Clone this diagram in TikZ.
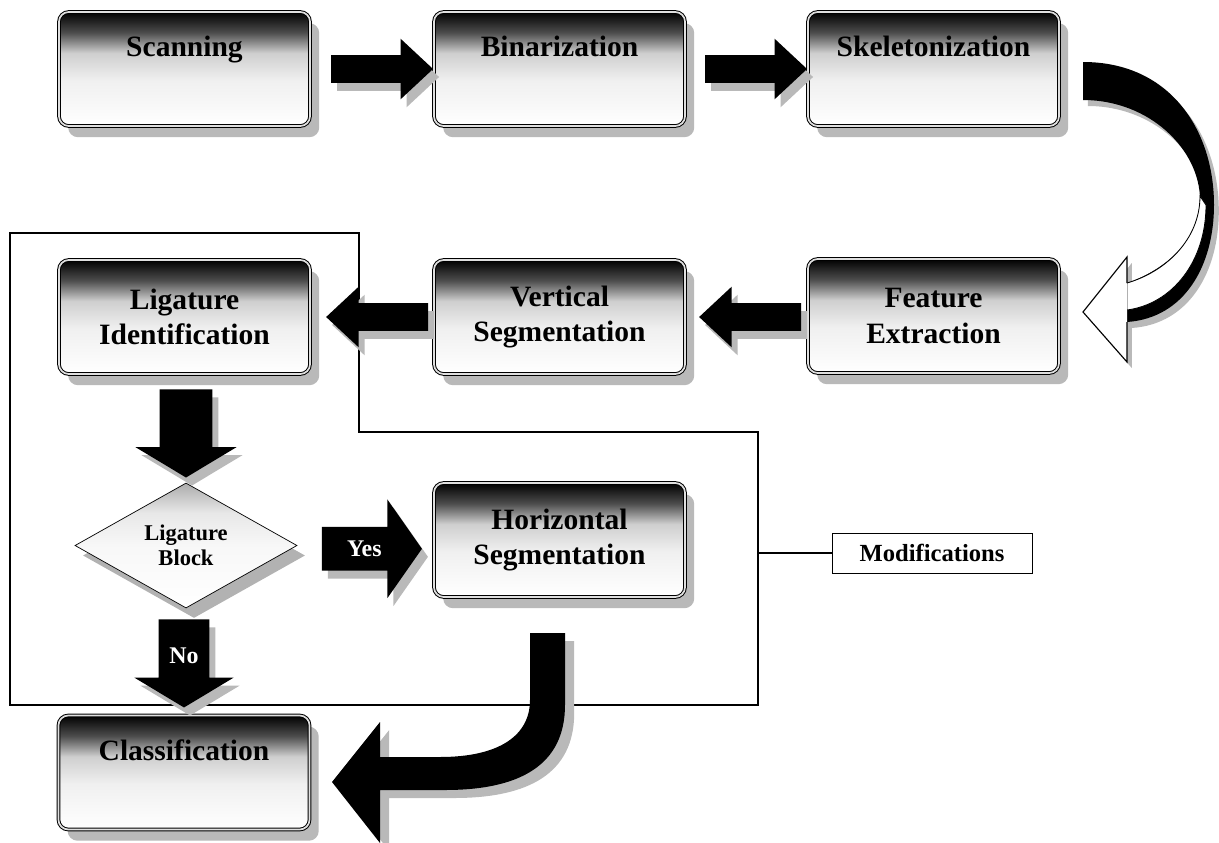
\documentclass[tikz,border=0pt]{standalone}
\usepackage{fontspec}
\setmainfont{Liberation Serif}
\usetikzlibrary{shapes.geometric, shapes.arrows, shadows}
\pgfdeclareverticalshading{boxshade}{100bp}{color(0bp)=(white); color(25bp)=(white); color(45bp)=(gray!12); color(57bp)=(gray!38); color(66bp)=(black!70); color(75bp)=(black); color(100bp)=(black)}
\pgfdeclareverticalshading{decshade}{100bp}{color(0bp)=(white); color(25bp)=(white); color(50bp)=(gray!6); color(63bp)=(gray!18); color(75bp)=(gray!65); color(100bp)=(gray!65)}
\tikzset{
    stepbox/.style={rectangle, rounded corners=7pt, minimum width=6.275cm, minimum height=2.85cm,
        text width=6cm, align=center, inner sep=0pt, shading=boxshade,
        draw=black, line width=0.7pt, double=gray!25, double distance=1.2pt,
        font=\fontsize{21}{25}\selectfont\bfseries,
        drop shadow={shadow xshift=0.23cm, shadow yshift=-0.28cm, fill=gray!55, opacity=1}},
    decbox/.style={diamond, aspect=1.78, minimum width=5.55cm, minimum height=3.125cm,
        inner sep=0pt, draw=black, line width=0.5pt, shading=decshade, align=center,
        font=\fontsize{16}{18}\selectfont\bfseries,
        drop shadow={shadow xshift=0.2cm, shadow yshift=-0.25cm, fill=gray!60, opacity=1}},
    notebox/.style={draw=black, line width=0.6pt, minimum width=5cm, minimum height=1cm,
        font=\fontsize{17.5}{20}\selectfont\bfseries},
    fatarrow/.style={single arrow, fill=black, inner sep=0.34cm, minimum height=2.55cm,
        single arrow head extend=0.41cm, single arrow tip angle=86,
        drop shadow={shadow xshift=0.15cm, shadow yshift=-0.2cm, fill=gray!55, opacity=1}},
    downarrow/.style={fatarrow, shape border rotate=270, inner sep=0.65cm, minimum height=2.2cm,
        single arrow head extend=0.61cm, single arrow tip angle=118},
    yesarrow/.style={fatarrow, inner sep=0.34cm, minimum height=2.5cm,
        single arrow head extend=0.69cm, single arrow tip angle=110},
    choice/.style={text=white, font=\fontsize{17}{20}\selectfont\bfseries},
    frameline/.style={draw=black, line width=0.8pt}
}

\begin{document}
\begin{tikzpicture}[x=0.025cm, y=-0.025cm]
    \useasboundingbox (0,0) rectangle (1219,843);

    % Frame of the modified stages
    \draw[frameline] (10,233) -- (359,233) -- (359,432) -- (758,432) -- (758,705) -- (10,705) -- cycle;
    \node[notebox] (mod) at (932,553) {Modifications};
    \coordinate (fedge) at (758,553);
    \draw[frameline] (fedge) -- (mod.west);

    % Top row
    \node[stepbox] (scan) at (184.5,69) {Scanning\\\strut};
    \node[stepbox] (bin) at (559.5,69) {Binarization\\\strut};
    \node[stepbox] (skel) at (933.5,69) {Skeletonization\\\strut};

    % Middle row
    \node[stepbox] (feat) at (933.5,316) {Feature\\Extraction};
    \node[stepbox] (vseg) at (559.5,317) {Vertical\\Segmentation};
    \node[stepbox] (lig) at (184.5,317) {Ligature\\Identification};

    % Decision and last stages
    \node[decbox] (dec) at (186,545.5) {Ligature\\Block};
    \node[stepbox] (hseg) at (559.5,540) {Horizontal\\Segmentation};
    \node[stepbox] (cls) at (184,772.5) {Classification\\\strut};

    % Straight block arrows
    \node[fatarrow, anchor=tip] (a1) at (bin.west) {};
    \node[fatarrow, anchor=tip] (a2) at (skel.west) {};
    \node[fatarrow, shape border rotate=180, anchor=tip] (a3) at ([xshift=0.33cm]vseg.east) {};
    \node[fatarrow, shape border rotate=180, anchor=tip] (a4) at ([xshift=0.38cm]lig.east) {};
    \node[downarrow, anchor=tip] (a5) at ([yshift=0.12cm]dec.north) {};
    \node[yesarrow, choice, anchor=tip] (yes) at ([xshift=-0.28cm, yshift=-0.22cm]hseg.west) {Yes};
    \node[downarrow, choice, inner sep=0.26cm, anchor=tip] (no) at ([yshift=0.18cm]cls.north) {No};

    % Bent arrow from Skeletonization down to Feature Extraction
    \fill[gray!55, xshift=0.12cm, yshift=-0.15cm] (1083,62) .. controls (1170,62) and (1214,130) .. (1214,205)
        .. controls (1214,265) and (1185,318) .. (1127,322) -- (1127,362) -- (1083,312) -- (1127,257) -- (1127,283)
        .. controls (1165,270) and (1200,240) .. (1200,200) .. controls (1200,150) and (1150,100) .. (1083,100) -- cycle;
    \fill[black] (1083,62) .. controls (1170,62) and (1214,130) .. (1214,205)
        .. controls (1214,265) and (1185,318) .. (1127,322) -- (1127,283)
        .. controls (1165,270) and (1200,240) .. (1200,200) .. controls (1200,150) and (1150,100) .. (1083,100) -- cycle;
    \filldraw[fill=white, draw=black, line width=0.6pt] (1200,196) .. controls (1200,240) and (1165,272) .. (1127,283)
        -- (1127,310) .. controls (1172,304) and (1206,262) .. (1206,205) -- cycle;
    \filldraw[fill=white, draw=black, line width=0.8pt] (1127,283) -- (1127,257) -- (1083,312) -- (1127,362) -- (1127,322);

    % Bent arrow from Horizontal Segmentation to Classification
    \fill[gray!55, xshift=0.23cm, yshift=-0.2cm] (530,633) -- (565,633) -- (565,705) .. controls (565,765) and (520,790) .. (445,790)
        -- (380,790) -- (380,843) -- (332,782) -- (380,722) -- (380,757) -- (440,757) .. controls (500,757) and (530,735) .. (530,700) -- cycle;
    \fill[black] (530,633) -- (565,633) -- (565,705) .. controls (565,765) and (520,790) .. (445,790)
        -- (380,790) -- (380,843) -- (332,782) -- (380,722) -- (380,757) -- (440,757) .. controls (500,757) and (530,735) .. (530,700) -- cycle;
\end{tikzpicture}
\end{document}
